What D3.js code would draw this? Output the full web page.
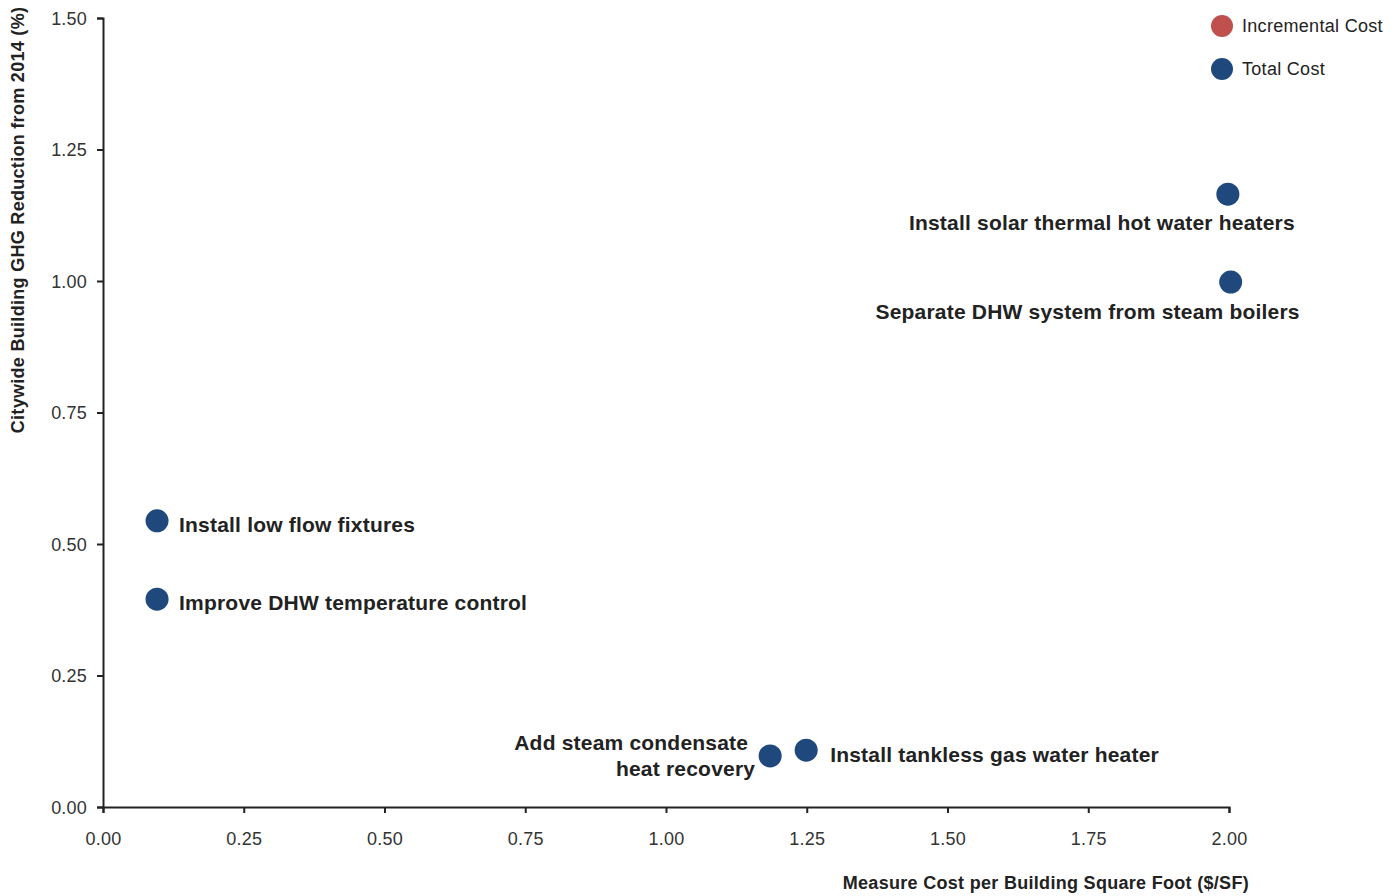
<!DOCTYPE html>
<html><head><meta charset="utf-8">
<script src="https://cdn.jsdelivr.net/npm/d3@7"></script>
<style>body{margin:0;background:#fff;}svg{display:block;font-family:"Liberation Sans",Arial,sans-serif;}</style>
</head><body>
<svg id="c" width="1397" height="896"></svg>
<script>
const measures = ["Install solar thermal hot water heaters","Separate DHW system from steam boilers","Install low flow fixtures","Improve DHW temperature control","Add steam condensate heat recovery","Install tankless gas water heater"];
const costValues = [1.998, 2.003, 0.096, 0.096, 1.185, 1.249];
const ghgValues = [1.165, 0.998, 0.544, 0.395, 0.097, 0.108];
const xTicks = [0, 0.25, 0.5, 0.75, 1.0, 1.25, 1.5, 1.75, 2.0];
const yTicks = [0, 0.25, 0.5, 0.75, 1.0, 1.25, 1.5];
const legendItems = ["Incremental Cost", "Total Cost"];
const legendColors = ["#c0504d", "#1f497d"];
// label placement: [anchor, dx, dy, lines]
const labelPlace = [
  ["end", 67, 36, ["Install solar thermal hot water heaters"]],
  ["end", 69, 37, ["Separate DHW system from steam boilers"]],
  ["start", 22, 11, ["Install low flow fixtures"]],
  ["start", 22, 11, ["Improve DHW temperature control"]],
  ["end", -22, -6, ["Add steam condensate", "heat recovery"]],
  ["start", 24, 12, ["Install tankless gas water heater"]]
];

const svg = d3.select("#c");
const x = d3.scaleLinear().domain([0, 2]).range([103, 1229]);
const y = d3.scaleLinear().domain([0, 1.5]).range([807, 18]);

const xa = svg.append("g").attr("transform", "translate(0,807)")
  .call(d3.axisBottom(x).tickValues(xTicks).tickFormat(d3.format(".2f")).tickSizeOuter(0).tickSize(6).tickPadding(19));
const ya = svg.append("g").attr("transform", "translate(103,0)")
  .call(d3.axisLeft(y).tickValues(yTicks).tickFormat(d3.format(".2f")).tickSizeOuter(0).tickSize(6).tickPadding(10));
[xa, ya].forEach(a => {
  a.select(".domain").attr("stroke", "#222").attr("stroke-width", 2);
  a.selectAll(".tick line").attr("stroke", "#222").attr("stroke-width", 2);
  a.selectAll(".tick text").attr("font-size", 18).attr("fill", "#333").attr("letter-spacing", 0.2)
    .attr("font-family", "Liberation Sans, Arial, sans-serif");
});
ya.selectAll(".tick text").attr("dy", "0.35em");

svg.append("text").attr("x", 1249).attr("y", 889).attr("text-anchor", "end")
  .attr("font-size", 18).attr("font-weight", "bold").attr("fill", "#222").attr("letter-spacing", 0.3)
  .text("Measure Cost per Building Square Foot ($/SF)");
svg.append("text").attr("transform", "translate(24,220) rotate(-90)").attr("text-anchor", "middle")
  .attr("font-size", 18).attr("font-weight", "bold").attr("fill", "#222").attr("letter-spacing", 0.3)
  .text("Citywide Building GHG Reduction from 2014 (%)");

const data = measures.map((m, i) => ({m, c: costValues[i], g: ghgValues[i], p: labelPlace[i]}));
svg.append("g").selectAll("circle").data(data).join("circle")
  .attr("cx", d => x(d.c)).attr("cy", d => y(d.g)).attr("r", 11.5).attr("fill", "#1f497d");

const lbl = svg.append("g").selectAll("text").data(data).join("text")
  .attr("x", d => x(d.c) + d.p[1]).attr("y", d => y(d.g) + d.p[2])
  .attr("text-anchor", d => d.p[0]).attr("font-size", 21).attr("font-weight", "bold").attr("fill", "#222")
  .attr("letter-spacing", 0.2);
lbl.each(function(d) {
  const t = d3.select(this);
  d.p[3].forEach((line, j) => {
    t.append("tspan").attr("x", x(d.c) + d.p[1] + (j > 0 ? 7 : 0)).attr("dy", j === 0 ? 0 : 26).text(line);
  });
});

const lg = svg.append("g");
legendItems.forEach((name, i) => {
  lg.append("circle").attr("cx", 1222).attr("cy", 26 + i * 43).attr("r", 11).attr("fill", legendColors[i]);
  lg.append("text").attr("x", 1242).attr("y", 26 + i * 43 + 6).attr("font-size", 18).attr("fill", "#222")
    .attr("letter-spacing", 0.3).text(name);
});
</script>
</body></html>
